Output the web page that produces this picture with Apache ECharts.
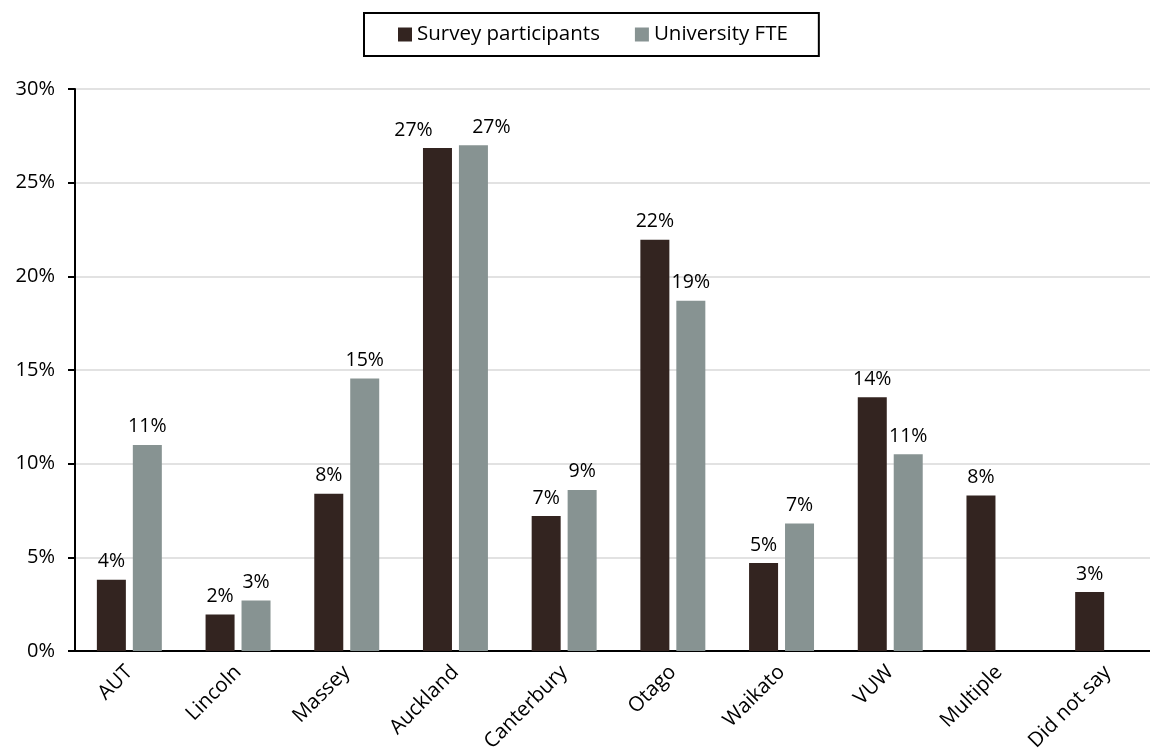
<!DOCTYPE html>
<html>
<head>
<meta charset="utf-8">
<script src="https://cdn.jsdelivr.net/npm/echarts@6/dist/echarts.min.js"></script>
<style>
  html, body { margin: 0; padding: 0; background: #fff; overflow: hidden; }
  #wrap { width: 1150px; height: 756px; overflow: hidden; }
  #chart { width: 1162px; height: 756px; }
</style>
</head>
<body>
<div id="wrap"><div id="chart"></div></div>
<script>
const categories = ['AUT', 'Lincoln', 'Massey', 'Auckland', 'Canterbury', 'Otago', 'Waikato', 'VUW', 'Multiple', 'Did not say'];
const surveyParticipants = [3.8, 1.95, 8.4, 26.85, 7.2, 21.95, 4.7, 13.55, 8.3, 3.15];
const universityFTE = [11.0, 2.7, 14.55, 27.0, 8.6, 18.7, 6.8, 10.5, null, null];
const yTicks = [0, 5, 10, 15, 20, 25, 30];

const FONT = 'Open Sans';
const chart = echarts.init(document.getElementById('chart'), null, { renderer: 'canvas' });

const labelOpt = {
  show: true,
  position: 'top',
  distance: 8,
  fontFamily: FONT,
  fontSize: 19.5,
  color: '#000',
  formatter: p => (p.value == null ? '' : Math.round(p.value) + '%')
};

// Excel nudged the two crowded Auckland labels apart
const crowdedIndex = categories.indexOf('Auckland');
function withNudge(values, dx) {
  return values.map((v, i) => i === crowdedIndex ? { value: v, label: { offset: [dx, 0] } } : v);
}

chart.setOption({
  animation: false,
  textStyle: { fontFamily: FONT },
  legend: {
    left: 364,
    top: 13,
    padding: [11, 31, 11, 34],
    itemGap: 35,
    itemWidth: 14,
    itemHeight: 14,
    borderColor: '#000',
    borderWidth: 2,
    icon: 'rect',
    textStyle: { fontFamily: FONT, fontSize: 20.5, color: '#000' },
    data: ['Survey participants', 'University FTE']
  },
  grid: {
    left: 75,
    top: 89,
    right: 0,
    height: 562,
    containLabel: false
  },
  xAxis: {
    type: 'category',
    data: categories,
    axisLine: { show: true, lineStyle: { color: '#000', width: 2 } },
    axisTick: { show: false },
    axisLabel: {
      rotate: 45,
      interval: 0,
      margin: 18,
      fontFamily: FONT,
      fontSize: 20.5,
      color: '#000'
    }
  },
  yAxis: {
    type: 'value',
    min: yTicks[0],
    max: yTicks[yTicks.length - 1],
    interval: 5,
    axisLine: { show: true, lineStyle: { color: '#000', width: 2 } },
    axisTick: { show: true, inside: false, length: 7, lineStyle: { color: '#000', width: 2 } },
    axisLabel: {
      margin: 20,
      fontFamily: FONT,
      fontSize: 20,
      color: '#000',
      formatter: v => v + '%'
    },
    splitLine: { show: true, lineStyle: { color: '#d9d9d9', width: 1.5 } }
  },
  series: [
    {
      name: 'Survey participants',
      type: 'bar',
      data: withNudge(surveyParticipants, -24),
      barWidth: 29,
      barGap: '24%',
      itemStyle: { color: '#332420' },
      label: labelOpt
    },
    {
      name: 'University FTE',
      type: 'bar',
      data: withNudge(universityFTE, 18),
      barWidth: 29,
      barGap: '24%',
      itemStyle: { color: '#879392' },
      label: labelOpt
    }
  ]
});
</script>
</body>
</html>
